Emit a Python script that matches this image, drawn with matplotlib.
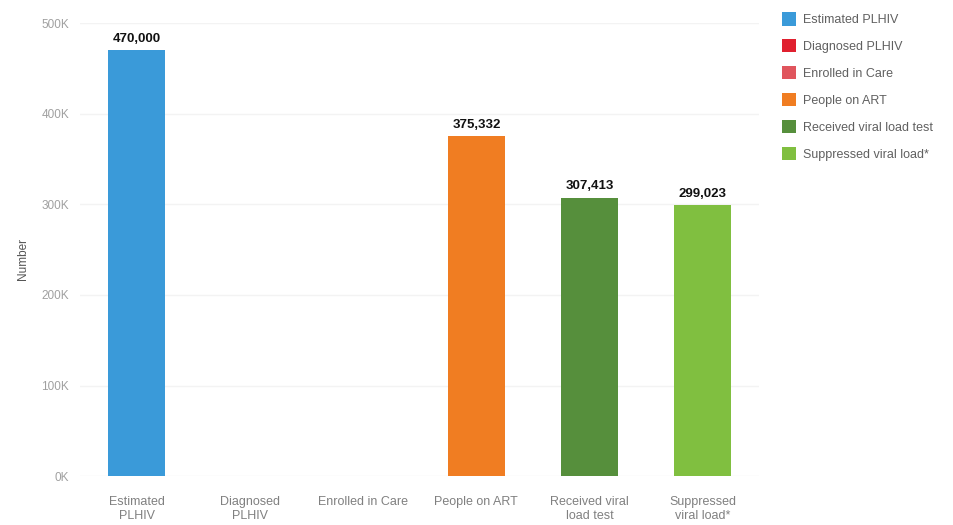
import numpy as np
import matplotlib
matplotlib.use("Agg")
import matplotlib.pyplot as plt
from matplotlib.patches import Patch
from matplotlib.ticker import FuncFormatter

categories = ["Estimated\nPLHIV", "Diagnosed\nPLHIV", "Enrolled in Care",
              "People on ART", "Received viral\nload test", "Suppressed\nviral load*"]
legend_labels = ["Estimated PLHIV", "Diagnosed PLHIV", "Enrolled in Care",
                 "People on ART", "Received viral load test", "Suppressed viral load*"]
values = [470000, np.nan, np.nan, 375332, 307413, 299023]
colors = ["#3a9ad9", "#e0202f", "#e0555d", "#f07d22", "#568f3c", "#80bf40"]

plt.rcParams['font.family'] = ['Liberation Sans', 'DejaVu Sans']

fig = plt.figure(figsize=(9.54, 5.25), dpi=100)
ax = fig.add_axes([0.084, 0.093, 0.712, 0.863])

x = np.arange(len(categories))
vals = np.nan_to_num(values, nan=0)
ax.bar(x, vals, width=0.5, color=colors, zorder=2)

for xi, v in zip(x, values):
    if not np.isnan(v):
        ax.text(xi, v + 6000, f"{int(v):,}", ha='center', va='bottom',
                fontsize=9.5, fontweight='bold', color='#111111')

ax.set_xlim(-0.5, 5.5)
ax.set_ylim(0, 500000)
ax.set_yticks(np.arange(0, 500001, 100000))
ax.yaxis.set_major_formatter(FuncFormatter(lambda v, p: f"{int(v/1000)}K"))
ax.set_xticks(x)
ax.set_xticklabels(categories, fontsize=9, color='#808080', linespacing=1.25)
ax.tick_params(axis='y', labelsize=8.5, labelcolor='#a0a0a0', length=0, pad=8)
ax.tick_params(axis='x', length=0, pad=14)
ax.grid(axis='y', color='#f3f3f3', linewidth=1, zorder=0)
for s in ax.spines.values():
    s.set_visible(False)
ax.set_ylabel("Number", fontsize=8.5, color='#555555', labelpad=14)
ax.yaxis.set_label_coords(-0.075, 0.48)

handles = [Patch(facecolor=c, edgecolor='none') for c in colors]
fig.legend(handles, legend_labels, loc='upper left', bbox_to_anchor=(0.808, 0.998),
           frameon=False, fontsize=9, labelcolor='#606060', handlelength=1.15,
           handleheight=1.25, handletextpad=0.5, labelspacing=1.05)

fig.savefig("out.png", dpi=100, facecolor='white')
